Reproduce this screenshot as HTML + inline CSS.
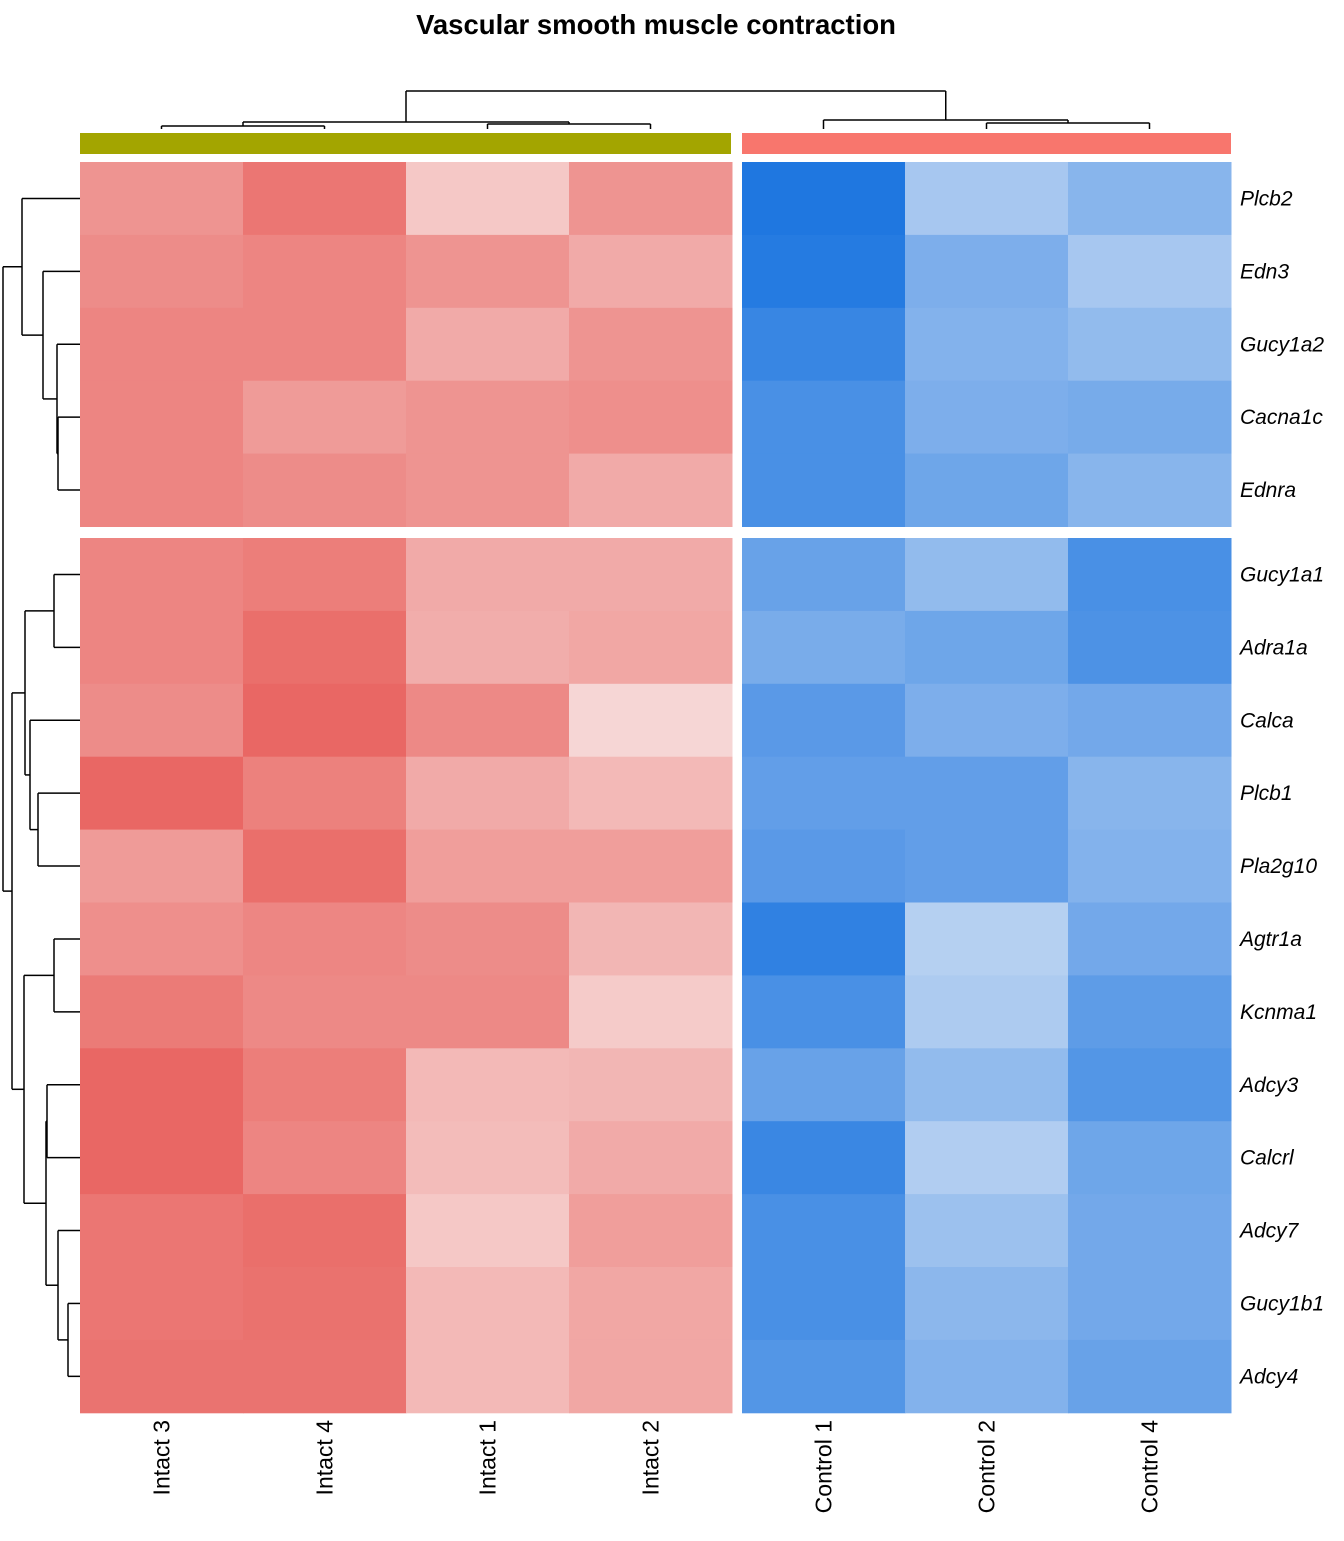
<!DOCTYPE html>
<html><head><meta charset="utf-8">
<style>
body{margin:0;background:#fff;}
svg text{font-family:"Liberation Sans",sans-serif;}
</style></head>
<body>
<svg id="c" width="1344" height="1536" xmlns="http://www.w3.org/2000/svg">
<text x="656" y="34" text-anchor="middle" font-size="27.5" font-weight="bold">Vascular smooth muscle contraction</text>
</svg>
<script>
const genes=["Plcb2","Edn3","Gucy1a2","Cacna1c","Ednra","Gucy1a1","Adra1a","Calca","Plcb1","Pla2g10","Agtr1a","Kcnma1","Adcy3","Calcrl","Adcy7","Gucy1b1","Adcy4"];
const samples=["Intact 3","Intact 4","Intact 1","Intact 2","Control 1","Control 2","Control 4"];
// red intensity for intact columns, blue intensity for control columns
const intactVals=[
[0.65,0.85,0.3,0.65],[0.7,0.75,0.65,0.5],[0.75,0.75,0.5,0.65],[0.75,0.6,0.65,0.68],[0.75,0.7,0.65,0.5],
[0.75,0.8,0.5,0.5],[0.75,0.9,0.48,0.52],[0.7,0.95,0.72,0.2],[0.95,0.78,0.5,0.4],[0.6,0.9,0.58,0.58],
[0.68,0.74,0.7,0.42],[0.82,0.72,0.72,0.28],[0.95,0.8,0.4,0.42],[0.95,0.75,0.38,0.5],[0.85,0.9,0.3,0.58],
[0.85,0.88,0.4,0.52],[0.87,0.87,0.4,0.52]];
const controlVals=[
[1,0.35,0.5],[0.97,0.55,0.35],[0.88,0.52,0.45],[0.8,0.55,0.58],[0.8,0.62,0.5],
[0.65,0.45,0.8],[0.57,0.62,0.78],[0.72,0.55,0.6],[0.68,0.68,0.5],[0.72,0.68,0.52],
[0.92,0.28,0.6],[0.8,0.32,0.7],[0.65,0.45,0.75],[0.87,0.3,0.62],[0.8,0.4,0.6],
[0.8,0.48,0.6],[0.75,0.52,0.65]];
// row dendrogram merges: [a, b, heightX]; negative index = leaf, positive = previous merge (1-based)
const rowMerges=[[-3,-4,58],[-2,1,57],[-1,2,43],[0,3,22],
[-5,-6,54],[-8,-9,38],[-7,6,30],[5,7,25],[-10,-11,54],[-15,-16,68],[-14,10,58],[-12,-13,47],[12,11,46],[9,13,24],[8,14,12],[4,15,3]];
// column dendrogram merges: leaves as strings "L<i>", merges as numbers (1-based)
const colMerges=[["L0","L1",126],["L2","L3",124],[1,2,122],["L5","L6",123],["L4",4,120],[3,5,91]];

const svg=document.getElementById('c');
const NS="http://www.w3.org/2000/svg";
function mk(t,a){const e=document.createElementNS(NS,t);for(const k in a)e.setAttribute(k,a[k]);svg.appendChild(e);return e;}
const cw=163.0, rh=72.9;
function colX(j){return j<4?80+j*cw:742+(j-4)*cw;}
function rowY(i){return i<5?162+i*rh:538+(i-5)*rh;}
function mix(a,b,t){return 'rgb('+a.map((v,k)=>Math.round(v+(b[k]-v)*t)).join(',')+')';}
const W1=[250,244,243],R=[232,96,92],W2=[240,242,248],B=[31,119,224];
for(let i=0;i<genes.length;i++){
  for(let j=0;j<7;j++){
    const col=j<4?mix(W1,R,intactVals[i][j]):mix(W2,B,controlVals[i][j-4]);
    const r=mk('rect',{x:colX(j),y:rowY(i),width:cw+0.5,height:rh+0.5,fill:col});
    
    
  }
  const t=mk('text',{x:1240,y:rowY(i)+rh/2+7,'font-size':21,'font-style':'italic'});
  t.textContent=genes[i];
  
  
}
for(let j=0;j<7;j++){
  const cx=colX(j)+cw/2+8;
  const t=mk('text',{x:cx,y:1420,'font-size':23,'text-anchor':'end',transform:'rotate(-90 '+cx+' 1420)'});
  t.textContent=samples[j];
  
  
}
const a1=mk('rect',{x:80,y:133,width:651,height:21,fill:'#A3A500'});


const a2=mk('rect',{x:742,y:133,width:489,height:21,fill:'#F8766D'});


function line(x1,y1,x2,y2,name){const l=mk('line',{x1,y1,x2,y2,stroke:'#000','stroke-width':1.5});}
// row dendrogram
const rnodes=[];
function rget(k){return k<=0?{y:rowY(-k)+rh/2,x:80}:rnodes[k-1];}
rowMerges.forEach(m=>{
  const a=rget(m[0]),b=rget(m[1]),h=m[2];
  line(h,a.y,a.x,a.y,'row-dendrogram-branch');
  line(h,b.y,b.x,b.y,'row-dendrogram-branch');
  line(h,a.y,h,b.y,'row-dendrogram-branch');
  rnodes.push({x:h,y:(a.y+b.y)/2});
});
// column dendrogram
const cnodes=[];
function cget(k){return typeof k==='string'?{x:colX(+k.slice(1))+cw/2,y:129}:cnodes[k-1];}
colMerges.forEach(m=>{
  const a=cget(m[0]),b=cget(m[1]),h=m[2];
  line(a.x,h,a.x,a.y,'col-dendrogram-branch');
  line(b.x,h,b.x,b.y,'col-dendrogram-branch');
  line(a.x,h,b.x,h,'col-dendrogram-branch');
  cnodes.push({x:(a.x+b.x)/2,y:h});
});
</script>
</body></html>
